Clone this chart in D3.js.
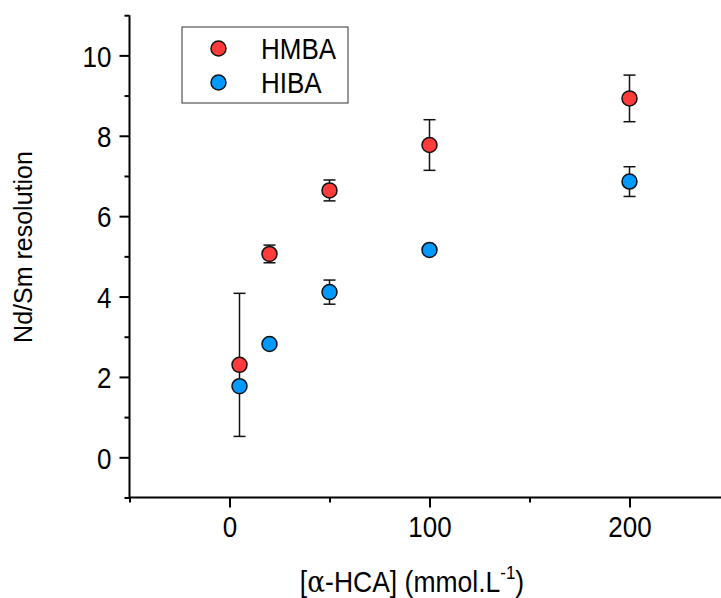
<!DOCTYPE html>
<html>
<head>
<meta charset="utf-8">
<script src="https://cdn.jsdelivr.net/npm/d3@7"></script>
<style>
  html, body { margin: 0; padding: 0; background: #fff; }
  svg { display: block; font-family: "Liberation Sans", Arial, sans-serif; }
</style>
</head>
<body>
<svg id="chart" width="721" height="598"></svg>
<script>
// ---- data ----
const concentrations = [5, 20, 50, 100, 200];
const hmbaValues = [2.30, 5.06, 6.64, 7.77, 8.93];
const hmbaErrors = [1.78, 0.22, 0.26, 0.63, 0.58];
const hibaValues = [1.77, 2.82, 4.11, 5.16, 6.86];
const hibaErrors = [0, 0, 0.30, 0, 0.37];
const seriesNames = ["HMBA", "HIBA"];
const seriesColors = ["#ff3b3b", "#0099ff"];
const xMajorTicks = [0, 100, 200];
const xMinorTicks = [-50, 50, 150, 250];
const yMajorTicks = [0, 2, 4, 6, 8, 10];
const yMinorTicks = [-1, 1, 3, 5, 7, 9, 11];

const svg = d3.select("#chart");
const x = d3.scaleLinear().domain([-50, 250]).range([129.5, 729.5]);
const y = d3.scaleLinear().domain([-1, 11]).range([497.5, 15.2]);

const axisColor = "#000";
const stretch = 1.15;

// Y axis
const yAxisMajor = d3.axisLeft(y).tickValues(yMajorTicks).tickSize(10).tickPadding(8).tickFormat(d3.format("d"));
const yAxisMinor = d3.axisLeft(y).tickValues(yMinorTicks).tickSize(5).tickFormat("");
const gyMinor = svg.append("g").attr("transform", `translate(${x(-50)},0)`).call(yAxisMinor);
const gy = svg.append("g").attr("transform", `translate(${x(-50)},0)`).call(yAxisMajor);

// X axis
const xAxisMajor = d3.axisBottom(x).tickValues(xMajorTicks).tickSize(10).tickPadding(10).tickFormat(d3.format("d"));
const xAxisMinor = d3.axisBottom(x).tickValues(xMinorTicks).tickSize(5).tickFormat("");
const gxMinor = svg.append("g").attr("transform", `translate(0,${y(-1)})`).call(xAxisMinor);
const gx = svg.append("g").attr("transform", `translate(0,${y(-1)})`).call(xAxisMajor);

[gy, gyMinor, gx, gxMinor].forEach(g => {
  g.select(".domain").attr("stroke", axisColor).attr("stroke-width", 2);
  g.selectAll(".tick line").attr("stroke", axisColor).attr("stroke-width", 2);
  g.selectAll(".tick text").attr("fill", "#000").style("font-size", "26px").style("font-family", '"Liberation Sans", Arial, sans-serif');
});
gyMinor.select(".domain").remove();
gxMinor.select(".domain").remove();
gy.select(".domain").attr("d", `M0,${y(-1)}V${y(11)}`);
gx.select(".domain").attr("d", `M${x(-50)},0H${x(250)}`);
gy.selectAll(".tick text").attr("y", 0).attr("dy", "0.36em").attr("transform", `scale(1,${stretch})`);
gx.selectAll(".tick text").attr("y", 0).attr("dy", "0.72em").attr("transform", `translate(0,18) scale(1,${stretch})`);

// Axis titles
svg.append("text")
  .attr("transform", `translate(32,${247}) rotate(-90)`)
  .attr("text-anchor", "middle")
  .style("font-size", "25px")
  .text("Nd/Sm resolution");

const xt = svg.append("text")
  .attr("transform", `translate(412,592) scale(1,1.1)`)
  .attr("text-anchor", "middle")
  .style("font-size", "26.5px");
xt.append("tspan").text("[");
xt.append("tspan").style("font-family", '"DejaVu Serif", "Liberation Serif", serif').text("α");
xt.append("tspan").text("-HCA] (mmol.L");
xt.append("tspan").attr("dy", -12).style("font-size", "17px").text("-1");
xt.append("tspan").attr("dy", 12).text(")");

// Data series
const series = [
  { name: seriesNames[0], color: seriesColors[0], values: hmbaValues, errors: hmbaErrors },
  { name: seriesNames[1], color: seriesColors[1], values: hibaValues, errors: hibaErrors }
];

const capHalf = 6;
series.forEach(s => {
  const pts = concentrations.map((c, i) => ({ c, v: s.values[i], e: s.errors[i] }));
  const eg = svg.append("g");
  pts.filter(p => p.e > 0).forEach(p => {
    const cx = x(p.c), y1 = y(p.v + p.e), y2 = y(p.v - p.e);
    eg.append("line").attr("x1", cx).attr("x2", cx).attr("y1", y1).attr("y2", y2).attr("stroke", "#111").attr("stroke-width", 1.5);
    eg.append("line").attr("x1", cx - capHalf).attr("x2", cx + capHalf).attr("y1", y1).attr("y2", y1).attr("stroke", "#111").attr("stroke-width", 1.5);
    eg.append("line").attr("x1", cx - capHalf).attr("x2", cx + capHalf).attr("y1", y2).attr("y2", y2).attr("stroke", "#111").attr("stroke-width", 1.5);
  });
});
series.forEach(s => {
  svg.append("g").selectAll("circle")
    .data(concentrations.map((c, i) => ({ c, v: s.values[i] })))
    .join("circle")
    .attr("cx", d => x(d.c))
    .attr("cy", d => y(d.v))
    .attr("r", 7.5)
    .attr("fill", s.color)
    .attr("stroke", "#111")
    .attr("stroke-width", 1.5);
});

// Legend
const lg = svg.append("g");
lg.append("rect").attr("x", 182).attr("y", 27).attr("width", 166).attr("height", 76)
  .attr("fill", "#fff").attr("stroke", "#333").attr("stroke-width", 1);
series.forEach((s, i) => {
  const cy = 48.5 + i * 34;
  lg.append("circle").attr("cx", 218.5).attr("cy", cy).attr("r", 7.5)
    .attr("fill", s.color).attr("stroke", "#111").attr("stroke-width", 1.5);
  lg.append("text").attr("transform", `translate(261,${cy}) scale(1,${stretch})`).attr("dy", "0.36em")
    .style("font-size", "26px").text(s.name);
});
</script>
</body>
</html>
